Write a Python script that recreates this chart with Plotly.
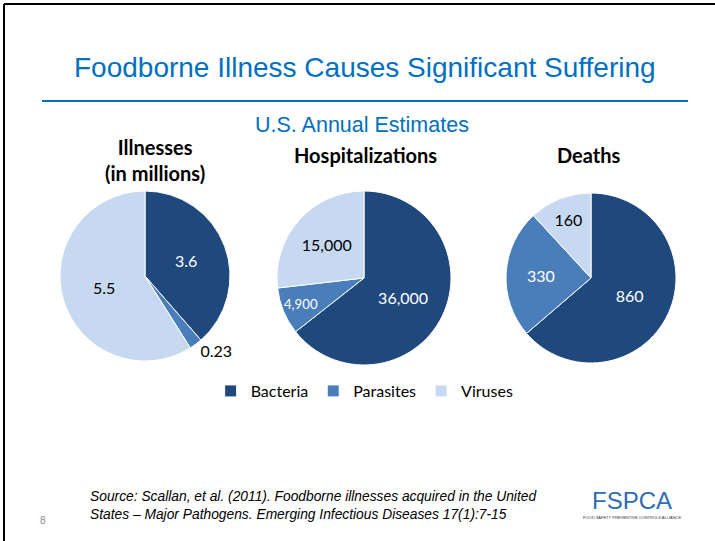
import plotly.graph_objects as go

W, H = 715, 541

categories = ["Bacteria", "Parasites", "Viruses"]
colors = ["#1F497D", "#4A7EBB", "#C6D9F1"]

illness_values = [3.6, 0.23, 5.5]
illness_labels = ["3.6", "0.23", "5.5"]
hosp_values = [36000, 4900, 15000]
hosp_labels = ["36,000", "4,900", "15,000"]
death_values = [860, 330, 160]
death_labels = ["860", "330", "160"]


def px_x(x):
  return x / W


def px_y(y):
  return 1 - y / H


def domain(cx, cy, r):
  return dict(x=[px_x(cx - r), px_x(cx + r)], y=[px_y(cy + r), px_y(cy - r)])


fig = go.Figure()

pies = [
  (illness_values, illness_labels, domain(145, 276, 85),
   ["inside", "outside", "inside"], ["white", "black", "black"], True),
  (hosp_values, hosp_labels, domain(364, 278, 87),
   ["inside", "inside", "inside"], ["white", "white", "black"], False),
  (death_values, death_labels, domain(591, 278, 85),
   ["inside", "inside", "inside"], ["white", "white", "black"], False),
]

for vals, labs, dom, tpos, tcol, show in pies:
  fig.add_trace(go.Pie(
    labels=categories,
    values=vals,
    text=labs,
    textinfo="text",
    textposition=tpos,
    insidetextorientation="horizontal",
    textfont=dict(family="Lato", size=16, color=tcol),
    outsidetextfont=dict(family="Lato", size=16, color="black"),
    marker=dict(colors=colors, line=dict(color="white", width=1)),
    sort=False,
    direction="clockwise",
    rotation=0,
    domain=dom,
    showlegend=show,
    hoverinfo="label+value",
  ))

annotations = [
  dict(text="Foodborne Illness Causes Significant Suffering", x=px_x(365), y=px_y(67),
       font=dict(family="Liberation Sans, Arial", size=28, color="#0070C0")),
  dict(text="U.S. Annual Estimates", x=px_x(362), y=px_y(125),
       font=dict(family="Liberation Sans, Arial", size=21.5, color="#0070C0")),
  dict(text="<b>Illnesses<br>(in millions)</b>", x=px_x(155), y=px_y(160),
       font=dict(family="Lato", size=20, color="black")),
  dict(text="<b>Hospitalizations</b>", x=px_x(365), y=px_y(155),
       font=dict(family="Lato", size=20, color="black")),
  dict(text="<b>Deaths</b>", x=px_x(588), y=px_y(155),
       font=dict(family="Lato", size=20, color="black")),
  dict(text="<i>Source: Scallan, et al. (2011). Foodborne illnesses acquired in the United<br>"
            "States – Major Pathogens. Emerging Infectious Diseases 17(1):7-15</i>",
       x=px_x(88), y=px_y(505), xanchor="left", align="left",
       font=dict(family="Liberation Sans, Arial", size=13.8, color="black")),
  dict(text="8", x=px_x(43), y=px_y(520),
       font=dict(family="Liberation Sans, Arial", size=10, color="#8C8C8C")),
  dict(text="FSPCA", x=px_x(632), y=px_y(500),
       font=dict(family="Liberation Sans, Arial", size=24, color="#2E6DB4")),
  dict(text="FOOD SAFETY PREVENTIVE CONTROLS ALLIANCE", x=px_x(632), y=px_y(517),
       font=dict(family="Liberation Sans, Arial", size=4, color="#333333")),
]
for a in annotations:
  a.setdefault("xanchor", "center")
  a.update(xref="paper", yref="paper", yanchor="middle", showarrow=False)

shapes = [
  dict(type="line", xref="paper", yref="paper", x0=px_x(42), x1=px_x(688),
       y0=px_y(101), y1=px_y(101), line=dict(color="#0070C0", width=2)),
  dict(type="line", xref="paper", yref="paper", x0=px_x(4), x1=1,
       y0=px_y(4), y1=px_y(4), line=dict(color="black", width=2)),
  dict(type="line", xref="paper", yref="paper", x0=px_x(4), x1=px_x(4),
       y0=px_y(4), y1=0, line=dict(color="black", width=2)),
]

fig.update_layout(
  width=W,
  height=H,
  margin=dict(l=0, r=0, t=0, b=0),
  paper_bgcolor="white",
  plot_bgcolor="white",
  annotations=annotations,
  shapes=shapes,
  legend=dict(
    orientation="h",
    x=0.51,
    xanchor="center",
    y=px_y(391),
    yanchor="middle",
    font=dict(family="Lato", size=16, color="black"),
    itemwidth=30,
    traceorder="normal",
  ),
)

# page body has a default 8px margin; drop it so the figure sits at the window origin
fig.write_html(
  "out.html",
  config={"displayModeBar": False},
  post_script="document.body.style.margin='0';",
)
